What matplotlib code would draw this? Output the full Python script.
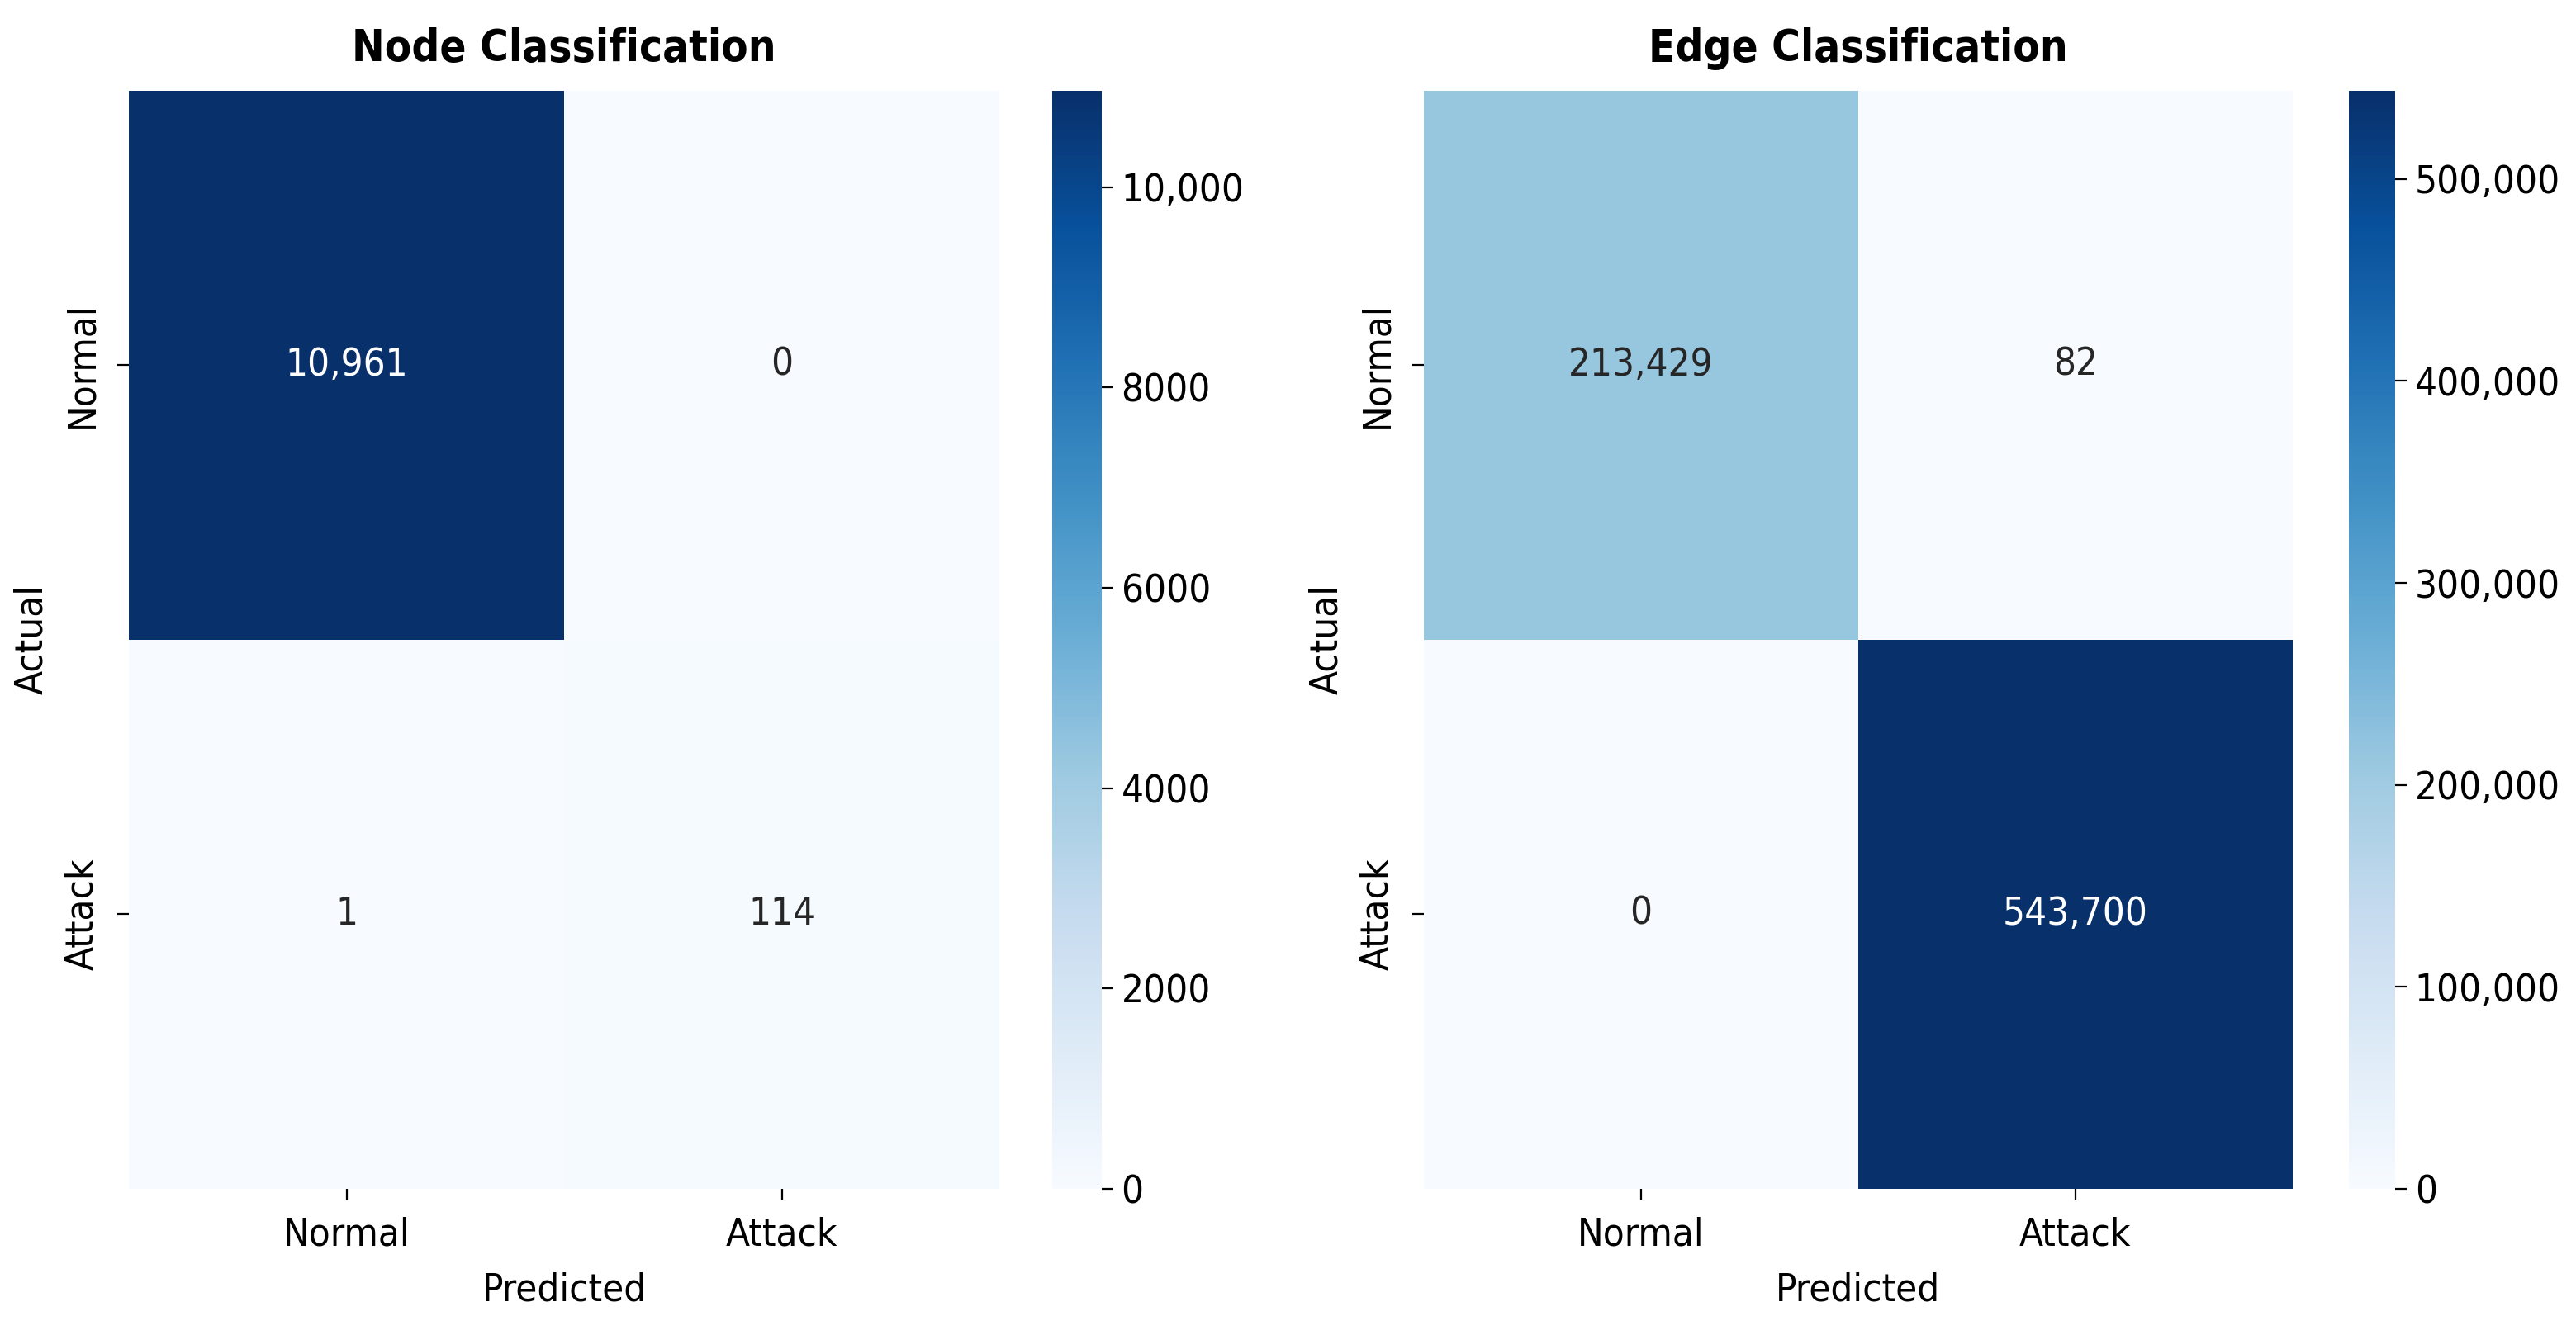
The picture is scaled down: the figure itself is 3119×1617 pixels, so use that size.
import numpy as np
import matplotlib
matplotlib.use('Agg')
import matplotlib.pyplot as plt
import seaborn as sns
from matplotlib.ticker import FuncFormatter

# confusion matrices (rows = actual, cols = predicted)
labels = ['Normal', 'Attack']
node_cm = [[10961, 0],
           [1, 114]]
edge_cm = [[213429, 82],
           [0, 543700]]
titles = ['Node Classification', 'Edge Classification']

# the source image has narrow, tall lettering -> condensed face
plt.rcParams['font.family'] = ['DejaVu Sans', 'DejaVu Sans']
plt.rcParams['font.stretch'] = 'condensed'

fig = plt.figure(figsize=(3119 / 200, 1617 / 200), dpi=200)

ax_pos = [[0.050, 0.1095, 0.338, 0.8225], [0.5527, 0.1095, 0.3373, 0.8225]]
cb_pos = [[0.4085, 0.1095, 0.0192, 0.8225], [0.9118, 0.1095, 0.018, 0.8225]]


def cb_fmt(x, pos):
    # commas only kick in from 10k up, like the original
    if abs(x) >= 10000:
        return '{:,.0f}'.format(x)
    return '{:.0f}'.format(x)


for cm, title, apos, cpos in zip([node_cm, edge_cm], titles, ax_pos, cb_pos):
    ax = fig.add_axes(apos)
    cax = fig.add_axes(cpos)
    data = np.array(cm)
    sns.heatmap(data, annot=True, fmt=',', cmap='Blues', ax=ax, cbar_ax=cax,
                xticklabels=labels, yticklabels=labels,
                annot_kws={'fontsize': 17})
    ax.set_title(title, fontsize=19, fontweight='bold', pad=13)
    ax.set_xlabel('Predicted', fontsize=17, labelpad=8)
    ax.set_ylabel('Actual', fontsize=17, labelpad=6)
    ax.tick_params(labelsize=17, length=5, pad=7)
    cax.yaxis.set_major_formatter(FuncFormatter(cb_fmt))
    cax.tick_params(labelsize=17, length=5)

fig.savefig('out.png', dpi=200)
